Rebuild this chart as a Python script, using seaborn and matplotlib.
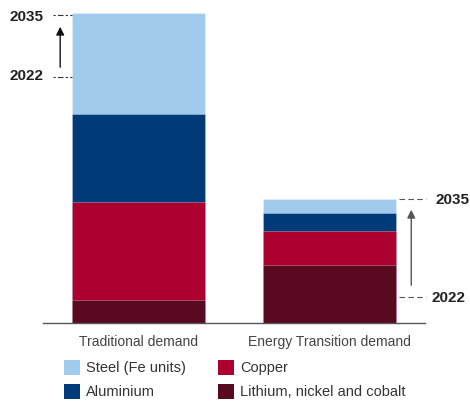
import matplotlib
matplotlib.use("Agg")
import matplotlib.pyplot as plt
import seaborn as sns
import numpy as np
from matplotlib.patches import Patch

sns.set_theme(style="white")
plt.rcParams['font.family'] = ['Liberation Sans', 'DejaVu Sans']

categories = ["Traditional demand", "Energy Transition demand"]
series_names = ["Lithium, nickel and cobalt", "Copper", "Aluminium", "Steel (Fe units)"]
lithium = [23, 58]
copper = [98, 34]
aluminium = [88, 18]
steel = [101, 14]
level_2022 = [246, 26]
year_labels = ["2022", "2035"]

colors = {
    "Steel (Fe units)": "#a0cbed",
    "Aluminium": "#003a78",
    "Copper": "#ac0030",
    "Lithium, nickel and cobalt": "#590a20",
}

series = [lithium, copper, aluminium, steel]
cum = np.cumsum(np.array(series), axis=0)
totals = cum[-1]

fig = plt.figure(figsize=(4.70, 4.03), dpi=100)
ax = fig.add_axes([43/470, 1-323/403, (425-43)/470, (323-13)/403])

for i in range(len(series) - 1, -1, -1):
    sns.barplot(x=categories, y=cum[i], color=colors[series_names[i]], saturation=1,
                width=0.7, ax=ax, edgecolor=(1, 1, 1, 0.35), linewidth=0.6)

ax.set_xlim(-0.5, 1.5)
ax.set_ylim(0, totals.max())
ax.set_yticks([])
ax.set_ylabel("")
for s in ["left", "right", "top"]:
    ax.spines[s].set_visible(False)
ax.spines["bottom"].set_color("#555555")
ax.spines["bottom"].set_linewidth(1.0)
ax.tick_params(axis="x", length=0, pad=8.5, labelsize=10, labelcolor="#444444")

# Left annotations (traditional demand)
for val, lab, dy in [(level_2022[0], year_labels[0], 1), (totals[0] - 2, year_labels[1], -2)]:
    ax.plot([-0.447, -0.347], [val, val], color="#333333", lw=0.8,
            linestyle=(0, (2, 2, 5, 2)), clip_on=False)
    ax.text(-0.5, val + dy, lab, ha="right", va="center", fontsize=11,
            fontweight="bold", color="#222222", clip_on=False)
ax.annotate("", xy=(-0.41, totals[0] - 11), xytext=(-0.41, level_2022[0] + 7),
            arrowprops=dict(arrowstyle="-|>", color="#111111", lw=1.0, mutation_scale=12),
            annotation_clip=False)

# Right annotations (energy transition demand)
for val, lab, xoff in [(level_2022[1], year_labels[0], 1.536), (totals[1], year_labels[1], 1.555)]:
    ax.plot([1.366, 1.507], [val, val], color="#555555", lw=0.8,
            linestyle=(0, (5, 3)), clip_on=False)
    ax.text(xoff, val - 1, lab, ha="left", va="center", fontsize=11,
            fontweight="bold", color="#222222", clip_on=False)
ax.annotate("", xy=(1.428, totals[1] - 8), xytext=(1.428, level_2022[1] + 9),
            arrowprops=dict(arrowstyle="-|>", color="#555555", lw=1.0, mutation_scale=12),
            annotation_clip=False)

handles = [Patch(facecolor=colors[n], edgecolor="none") for n in
           ["Steel (Fe units)", "Aluminium", "Copper", "Lithium, nickel and cobalt"]]
labels = ["Steel (Fe units)", "Aluminium", "Copper", "Lithium, nickel and cobalt"]
leg = fig.legend(handles, labels, ncol=2, loc="upper left", bbox_to_anchor=(58/470, 1-354/403),
                 frameon=False, fontsize=10.5, handlelength=1.1, handleheight=1.2,
                 handletextpad=0.4, columnspacing=2.25, labelspacing=0.6, borderaxespad=0,
                 labelcolor="#333333")

fig.savefig("out.png", dpi=100)
